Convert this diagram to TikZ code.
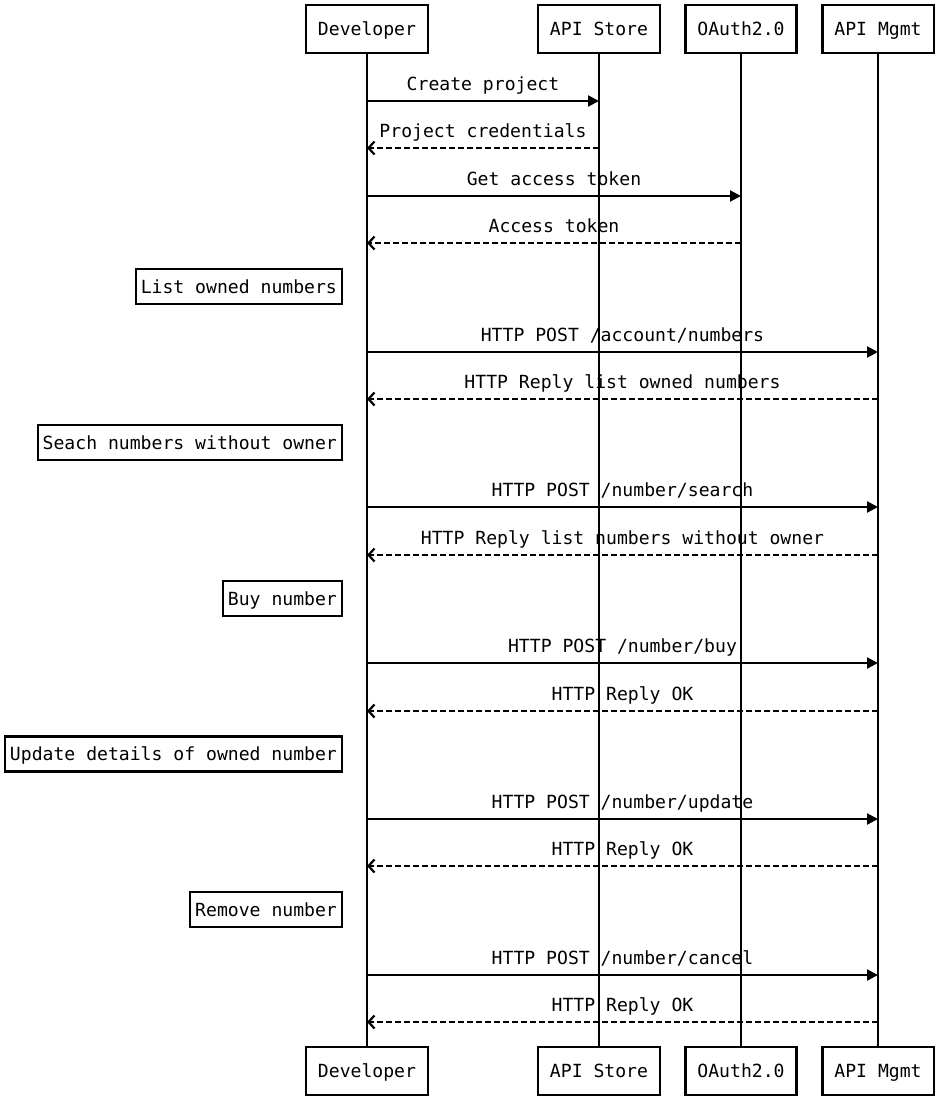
\documentclass[tikz,border=0pt]{standalone}
\usepackage{fontspec}
\newfontfamily\seqfont{DejaVu Sans Mono}
\usetikzlibrary{arrows.meta}

\begin{document}
\begin{tikzpicture}[x=1pt,y=-1pt,line width=2.2pt,font=\seqfont\fontsize{18.1}{20}\selectfont,
    actor/.style={draw,minimum height=48pt,inner xsep=12pt,text height=13pt,text depth=0pt},
    note/.style={draw,anchor=east,minimum height=35pt,inner xsep=5pt,text height=13pt,text depth=0pt},
    call/.style={-{Triangle[length=11pt,width=11pt]}},
    reply/.style={dash pattern=on 6pt off 3pt,-{Straight Barb[length=6pt,width=13pt]}},
    msg/.style={anchor=base,yshift=11pt}]
  \useasboundingbox (0,0) rectangle (937,1100);
  % participants and lifelines
  \foreach \n/\x/\t in {dev/367/Developer, store/599/API Store, auth/741/OAuth2.0, mgmt/878/API Mgmt} {
    \node[actor] (\n-top) at (\x,29) {\t};
    \node[actor] (\n-bot) at (\x,1071) {\t};
    \draw (\n-top) -- (\n-bot);
  }
  % notes on the left of the developer
  \foreach \y/\t [count=\i] in {286.5/List owned numbers, 442.5/Seach numbers without owner,
                                 598.5/Buy number, 754/Update details of owned number, 909.5/Remove number}
    \node[note] (note-\i) at (343,\y) {\t};
  % messages
  \foreach \a/\b/\y/\s/\t in {dev/store/101/call/{Create project}, store/dev/148/reply/{Project credentials},
                              dev/auth/196/call/{Get access token}, auth/dev/243/reply/{Access token},
                              dev/mgmt/352/call/{HTTP POST /account/numbers}, mgmt/dev/399/reply/{HTTP Reply list owned numbers},
                              dev/mgmt/507/call/{HTTP POST /number/search}, mgmt/dev/555/reply/{HTTP Reply list numbers without owner},
                              dev/mgmt/663/call/{HTTP POST /number/buy}, mgmt/dev/711/reply/{HTTP Reply OK},
                              dev/mgmt/819/call/{HTTP POST /number/update}, mgmt/dev/866/reply/{HTTP Reply OK},
                              dev/mgmt/975/call/{HTTP POST /number/cancel}, mgmt/dev/1022/reply/{HTTP Reply OK}}
    \draw[\s] (\a-top |- 0,\y) -- (\b-top |- 0,\y) node[msg,midway] {\t};
\end{tikzpicture}
\end{document}
